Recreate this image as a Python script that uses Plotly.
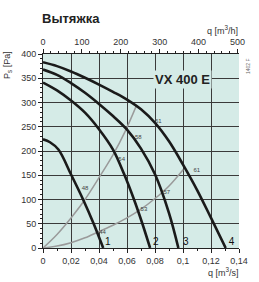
import plotly.graph_objects as go

# ---- data ----
q1 = [0, 0.005, 0.011, 0.0203, 0.0288, 0.0362, 0.043]
p1 = [224, 218, 203, 150, 99, 50, 0]
q2 = [0, 0.01, 0.02, 0.03, 0.04, 0.05, 0.058, 0.065, 0.071, 0.0765]
p2 = [341, 325, 304, 279, 245, 203, 152, 100, 50, 0]
q3 = [0, 0.01, 0.02, 0.03, 0.04, 0.05, 0.06, 0.07, 0.08, 0.09, 0.0967]
p3 = [368, 357, 340, 320, 297, 272, 244, 205, 152, 72, 0]
q4 = [0, 0.01, 0.02, 0.03, 0.04, 0.05, 0.06, 0.07, 0.08, 0.09, 0.1, 0.11, 0.12, 0.1305]
p4 = [383, 375, 364, 351, 337, 322, 306, 286, 258, 220, 172, 120, 62, 0]

q_steep = [0, 0.01, 0.02, 0.03, 0.04, 0.05, 0.0586, 0.0665]
p_steep = [0, 28, 62, 100, 145, 192, 240, 292]
q_flat = [0, 0.01, 0.02, 0.03, 0.04, 0.05, 0.06, 0.07, 0.08, 0.09, 0.1002]
p_flat = [0, 4, 11, 21, 34, 47, 62, 80, 102, 128, 162]

# sound-level labels (q, P, text)
lvl_q = [0.030, 0.0562, 0.0681, 0.0824, 0.0426, 0.0721, 0.0884, 0.1098]
lvl_p = [122, 182, 228, 261, 33, 79, 115, 159]
lvl_t = ["48", "54", "58", "61", "44", "53", "57", "61"]

curve_names = ["1", "2", "3", "4"]
curve_label_q = [0.0443, 0.0786, 0.1, 0.1327]
curve_label_p = [11, 11, 11, 11]

x_ticks = [0, 0.02, 0.04, 0.06, 0.08, 0.1, 0.12, 0.14]
x_ticktext = ["0", "0,02", "0,04", "0,06", "0,08", "0,1", "0,12", "0,14"]
y_ticks = [0, 50, 100, 150, 200, 250, 300, 350, 400]
x2_ticks = [0, 100, 200, 300, 400, 500]

FONT = "Arial, Liberation Sans, sans-serif"
fig = go.Figure()

for qq, pp in [(q_steep, p_steep), (q_flat, p_flat)]:
    fig.add_trace(go.Scatter(x=qq, y=pp, mode="lines", line=dict(color="#9a9a9a", width=1.5, shape="spline"),
                             showlegend=False, hoverinfo="skip"))
for qq, pp in [(q1, p1), (q2, p2), (q3, p3), (q4, p4)]:
    fig.add_trace(go.Scatter(x=qq, y=pp, mode="lines", line=dict(color="#1a1a1a", width=2.6, shape="spline"),
                             showlegend=False, hoverinfo="skip"))

fig.add_trace(go.Scatter(x=lvl_q, y=lvl_p, text=lvl_t, mode="text", textfont=dict(size=6, color="#444", family=FONT),
                         showlegend=False, hoverinfo="skip"))
fig.add_trace(go.Scatter(x=curve_label_q, y=curve_label_p, text=curve_names, mode="text",
                         textposition="middle right", textfont=dict(size=10, color="#111", family=FONT),
                         showlegend=False, hoverinfo="skip"))
# invisible trace for top axis
fig.add_trace(go.Scatter(x=[0, 504], y=[0, 0], xaxis="x2", mode="markers", marker=dict(opacity=0),
                         showlegend=False, hoverinfo="skip"))

fig.update_layout(
    width=259, height=282, autosize=False,
    margin=dict(l=43, r=20, t=54, b=34),
    paper_bgcolor="white", plot_bgcolor="#d5ebe7",
    font=dict(family=FONT, size=9, color="#333"),
    xaxis=dict(range=[0, 0.14], tickvals=x_ticks, ticktext=x_ticktext, showgrid=True, gridcolor="#3a3a3a",
               gridwidth=1, zeroline=False, showline=True, linecolor="#222", linewidth=1,
               ticks="outside", ticklen=4, tickcolor="#222", tickfont=dict(size=9, color="#333"),
               minor=dict(dtick=0.01, tick0=0, ticks="outside", ticklen=2, tickcolor="#222", showgrid=False)),
    xaxis2=dict(range=[0, 504], overlaying="x", side="top", tickvals=x2_ticks, showgrid=False, zeroline=False,
                showline=True, linecolor="#222", linewidth=1, ticks="outside", ticklen=4, tickcolor="#222",
                tickfont=dict(size=9, color="#333"),
                minor=dict(dtick=20, tick0=0, ticks="outside", ticklen=2, tickcolor="#222", showgrid=False)),
    yaxis=dict(range=[0, 400], tickvals=y_ticks, showgrid=True, gridcolor="#3a3a3a", gridwidth=1,
               zeroline=False, showline=True, linecolor="#222", linewidth=1, ticks="outside", ticklen=4,
               tickcolor="#222", tickfont=dict(size=9, color="#333"),
               minor=dict(dtick=10, tick0=0, ticks="outside", ticklen=2, tickcolor="#222", showgrid=False)),
)

ann = [
    dict(text="<b>Вытяжка</b>", x=40, y=19, font=dict(size=13, color="#222")),
    dict(text="q [m<sup>3</sup>/h]", x=222, y=30, font=dict(size=9, color="#333")),
    dict(text="q [m<sup>3</sup>/s]", x=223, y=272, font=dict(size=9, color="#333")),
]
for a in ann:
    xa = "left" if a["text"].startswith("<b>") else "center"
    fig.add_annotation(text=a["text"], xref="paper", yref="paper", x=(a["x"] - 43) / 196, y=(248 - a["y"]) / 194,
                       xanchor=xa, yanchor="middle", showarrow=False, font=dict(family=FONT, **a["font"]))
fig.add_annotation(text="P<sub>s</sub> [Pa]", xref="paper", yref="paper", x=(7 - 43) / 196, y=(248 - 65) / 194,
                   textangle=-90, xanchor="center", yanchor="middle", showarrow=False,
                   font=dict(family=FONT, size=9, color="#333"))
fig.add_annotation(text="1402 F", xref="paper", yref="paper", x=(248 - 43) / 196, y=(248 - 66) / 194,
                   textangle=-90, xanchor="center", yanchor="middle", showarrow=False,
                   font=dict(family=FONT, size=5, color="#666"))
fig.add_annotation(text="<b>VX 400 E</b>", xref="paper", yref="paper", x=(182.5 - 43) / 196, y=(248 - 79) / 194,
                   xanchor="center", yanchor="middle", showarrow=False, bgcolor="#d5ebe7", borderpad=1,
                   font=dict(family=FONT, size=13, color="#222"))

fig.write_html("out.html")
